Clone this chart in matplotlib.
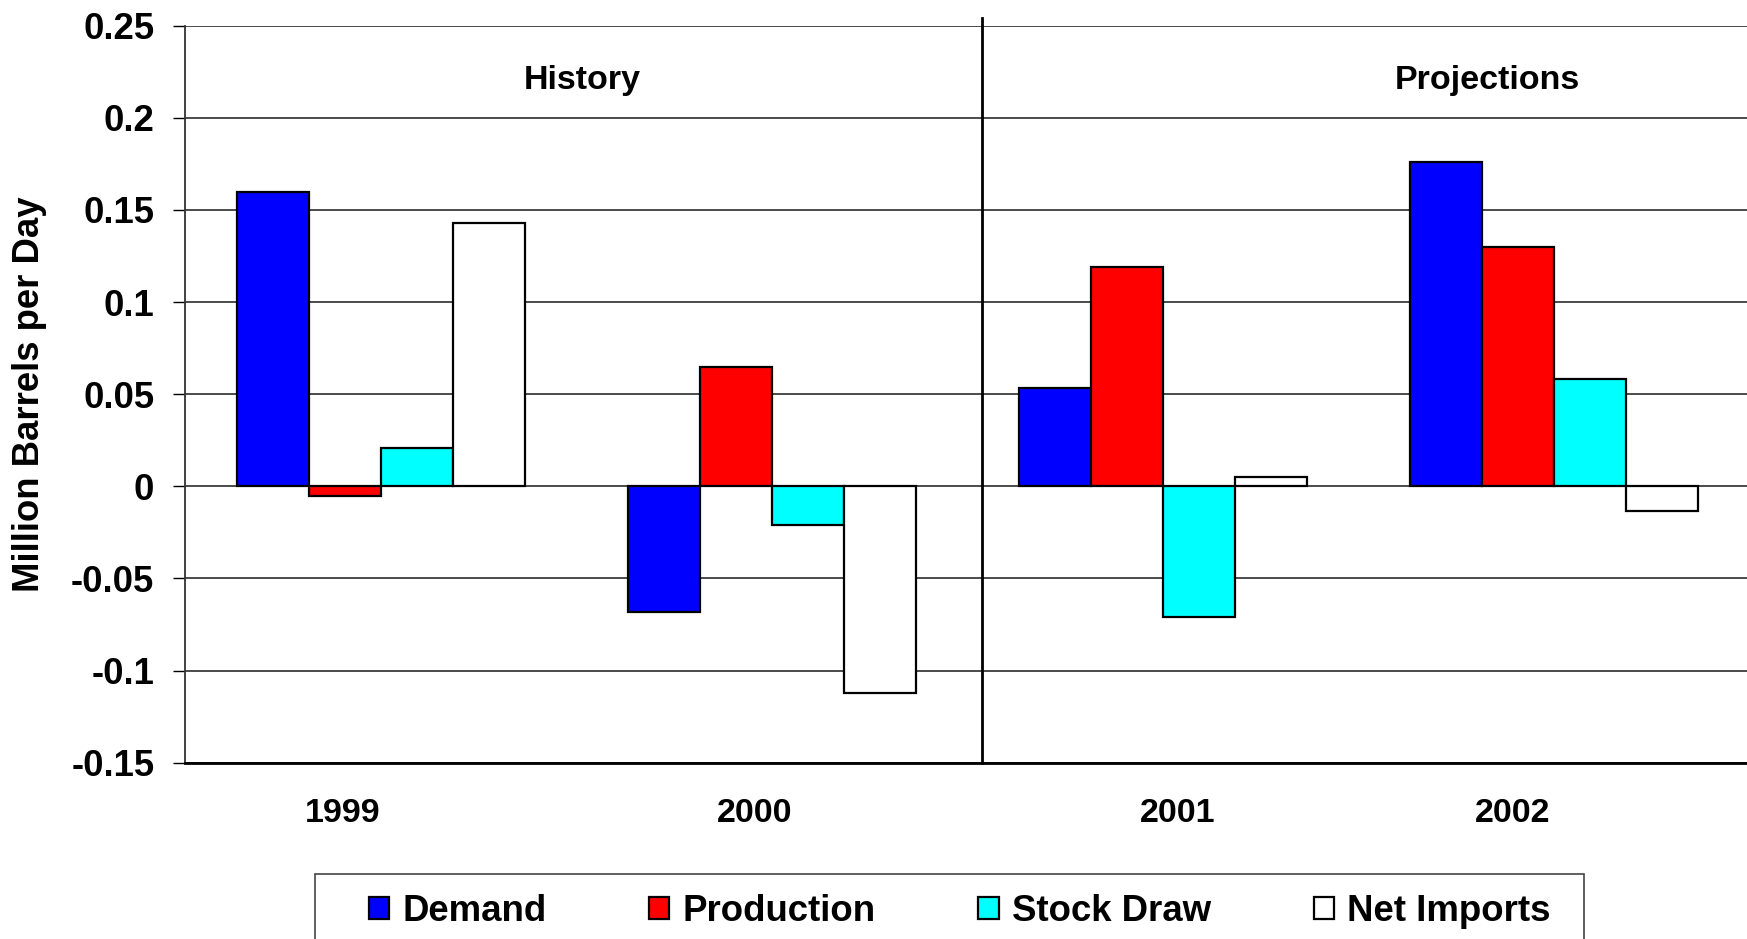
import matplotlib
matplotlib.use("Agg")
import matplotlib.pyplot as plt
from matplotlib.patches import Rectangle
import numpy as np

plt.rcParams['font.family'] = ['Liberation Sans', 'DejaVu Sans']
plt.rcParams['font.weight'] = 'bold'

# ---- data ----
years = ["1999", "2000", "2001", "2002"]
series_names = ["Demand", "Production", "Stock Draw", "Net Imports"]
demand = [0.160, -0.068, 0.0535, 0.176]
production = [-0.005, 0.065, 0.119, 0.130]
stock_draw = [0.021, -0.021, -0.0707, 0.058]
net_imports = [0.143, -0.112, 0.005, -0.0135]
yticks = [-0.15, -0.1, -0.05, 0, 0.05, 0.1, 0.15, 0.2, 0.25]
ytick_labels = ["-0.15", "-0.1", "-0.05", "0", "0.05", "0.1", "0.15", "0.2", "0.25"]
section_labels = ["History", "Projections"]

# ---- style / layout ----
colors = ["#0000FF", "#FF0000", "#00FFFF", "#FFFFFF"]
label_offsets = [-0.096, -0.043, 0.037, -0.106]   # year labels are slightly off-centre in the original
bar_w = 0.184
W, H = 1747, 939
fig = plt.figure(figsize=(W / 100, H / 100), dpi=100)
left_px, right_px, top_px, bottom_px = 185, 1750, 25.7, 762.7
ax = fig.add_axes([left_px / W, 1 - bottom_px / H, (right_px - left_px) / W, (bottom_px - top_px) / H])

x = np.arange(len(years))
all_series = [demand, production, stock_draw, net_imports]
for i, (vals, c, name) in enumerate(zip(all_series, colors, series_names)):
    ax.bar(x + (i - 1.5) * bar_w, vals, width=bar_w, color=c, edgecolor="black",
           linewidth=1.6, label=name, zorder=3)

ax.set_xlim(-0.5, len(years) - 0.5)
ax.set_ylim(-0.15, 0.25)
ax.set_yticks(yticks)
ax.set_yticklabels(ytick_labels)
ax.set_xticks(x + np.array(label_offsets))
ax.set_xticklabels(years)
ax.tick_params(axis='y', direction='out', length=8.6, width=1.0, pad=13.5,
               labelsize=26.3, colors='black')
ax.tick_params(axis='x', length=0, pad=25.6, labelsize=24.5)
for lab in ax.get_xticklabels() + ax.get_yticklabels():
    lab.set_fontweight('bold')

ax.grid(axis='y', color='#1a1a1a', linewidth=1.1, zorder=0)
ax.set_axisbelow(True)
for s in ['top', 'right']:
    ax.spines[s].set_visible(False)
ax.spines['left'].set_color('#333333')
ax.spines['left'].set_linewidth(1.3)
ax.spines['bottom'].set_color('black')
ax.spines['bottom'].set_linewidth(2.0)

ax.set_ylabel("Million Barrels per Day", fontsize=26.3, fontweight='bold')
ax.yaxis.set_label_coords(-0.088, 0.5)

# History / Projections divider
div_x = 1.538
ax.plot([div_x, div_x], [-0.15, 0.2543], color='black', linewidth=2.0, clip_on=False, zorder=4)
ax.text(0.515, 0.2204, section_labels[0], ha='center', va='center', fontsize=24.5, fontweight='bold')
ax.text(2.829, 0.2204, section_labels[1], ha='center', va='center', fontsize=24.5, fontweight='bold')

# legend
leg = fig.legend(loc='center left', bbox_to_anchor=(369 / W, 1 - 911.5 / H),
                 bbox_transform=fig.transFigure, ncol=4, frameon=False,
                 prop={'size': 26.4, 'weight': 'bold'}, handlelength=0.55, handleheight=0.58,
                 handletextpad=0.36, columnspacing=2.80, borderpad=0, borderaxespad=0)
for h in leg.legend_handles:
    h.set_linewidth(1.6)
    h.set_edgecolor('black')

fig.patches.append(Rectangle((315 / W, -0.05), (1584 - 315) / W, 0.05 + 1 - 874 / H,
                             transform=fig.transFigure, fill=False, edgecolor='#444444',
                             linewidth=1.2))

fig.savefig("out.png", dpi=100)
